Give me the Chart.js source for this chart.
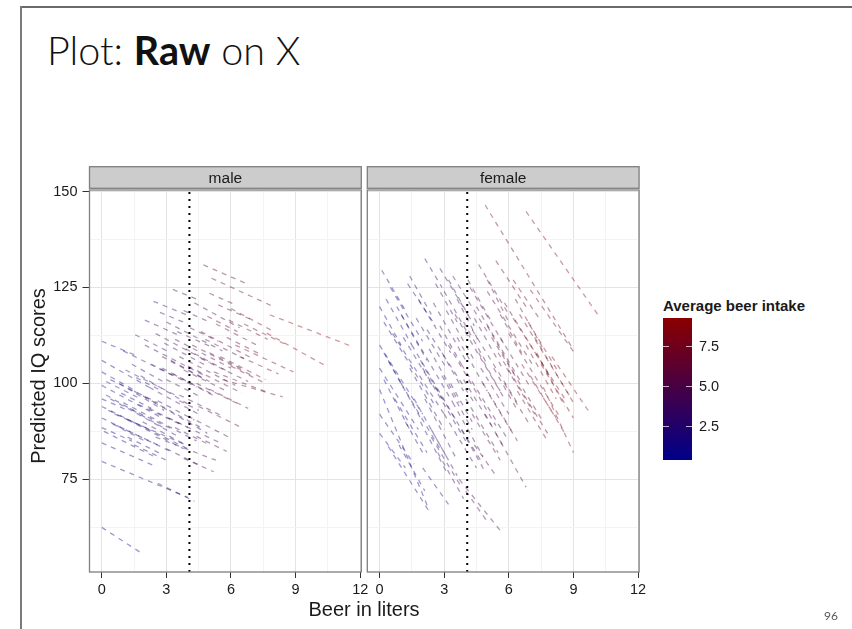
<!DOCTYPE html>
<html>
<head>
<meta charset="utf-8">
<script src="https://cdn.jsdelivr.net/npm/chart.js@4.4.1/dist/chart.umd.min.js"></script>
<style>
  body { margin: 0; background: #fff; }
  #page { position: relative; width: 852px; height: 629px; overflow: hidden; font-family: "Liberation Sans", Arial, sans-serif; color: #1a1a1a; }
  .frameTop { position: absolute; left: 20px; top: 6px; width: 832px; height: 2px; background: #6a6a6a; }
  .frameLeft { position: absolute; left: 20px; top: 6px; width: 2px; height: 623px; background: #7a7a7a; }
  #title { position: absolute; left: 47px; top: 30px; font-family: Lato, "Open Sans", sans-serif; font-weight: 300; font-size: 39.5px; line-height: 39.5px; white-space: nowrap; color: #111; }
  #title b { font-weight: 700; }
  #ytitle { position: absolute; left: -112px; top: 366px; width: 300px; text-align: center; font-size: 20px; line-height: 20px; transform: rotate(-90deg); }
  #xtitle { position: absolute; left: 214px; top: 599px; width: 300px; text-align: center; font-size: 20px; line-height: 20px; }
  #legTitle { position: absolute; left: 663px; top: 298px; font-size: 15px; line-height: 15px; font-weight: bold; white-space: nowrap; }
  #legBar { position: absolute; left: 663px; top: 318px; width: 29px; height: 142px; background: linear-gradient(to top, #00008b, #8b0000); }
  .legTick { position: absolute; height: 1px; width: 6px; background: rgba(255,255,255,0.7); }
  .legLab { position: absolute; left: 699px; font-size: 14.5px; line-height: 14.5px; }
  #pageNo { position: absolute; left: 824px; top: 608px; font-family: Lato, sans-serif; font-size: 12px; color: #555; }
  canvas { position: absolute; }
</style>
</head>
<body>
<div id="page">
  <div class="frameTop"></div>
  <div class="frameLeft"></div>
  <div id="title">Plot: <b>Raw</b> on X</div>
  <canvas id="male" width="345" height="446" style="left:30px; top:160px;"></canvas>
  <canvas id="female" width="297" height="446" style="left:357px; top:160px;"></canvas>
  <div id="ytitle">Predicted IQ scores</div>
  <div id="xtitle">Beer in liters</div>
  <div id="legTitle">Average beer intake</div>
  <div id="legBar"></div>
  <div id="pageNo">96</div>
</div>
<script>
// each line: [liters start, IQ at start, liters end, IQ at end]
var maleLines = [
  [0, 62.5, 1.9, 55.6], [0, 79.7, 4.0, 70.3], [0, 84.5, 2.5, 78.4], [0.1, 87.5, 2.6, 80.5],
  [0, 91, 3.3, 82], [0, 94, 4.1, 82.7], [0.2, 97, 3.0, 88], [0, 99.5, 2.8, 91],
  [0.4, 96, 3.6, 86], [0.6, 92, 3.9, 84], [1.0, 95, 4.4, 85], [1.2, 90.5, 3.8, 83],
  [0.8, 100, 2.9, 93], [1.5, 98, 4.6, 88.5], [2.0, 96.5, 4.9, 87], [1.8, 102, 4.2, 94],
  [0, 103, 1.6, 98], [0, 106, 2.2, 99], [0, 111, 1.5, 107.5], [2.6, 74, 4.3, 69.3],
  [2.5, 86, 5.3, 80], [3.0, 83, 4.6, 78.5], [4.4, 86.2, 5.8, 82.3], [3.8, 80.5, 5.2, 77],
  [3.1, 91, 5.5, 84.5], [2.2, 93.5, 4.0, 88.5], [1.55, 112.7, 3.2, 108], [1.0, 108.5, 3.5, 101.5],
  [2.0, 110, 4.8, 102], [2.5, 113, 5.0, 105.5], [2.4, 121.4, 4.1, 117.5], [3.3, 124.5, 4.4, 122],
  [4.3, 121, 6.4, 114.5], [5.0, 123.5, 6.2, 120.5], [3.0, 116, 5.6, 108.5], [3.4, 111.5, 6.0, 104],
  [3.6, 107, 6.2, 99.5], [2.8, 104, 5.2, 97], [4.0, 104.5, 6.5, 97.5], [4.2, 110, 7.0, 102],
  [4.6, 113.5, 7.0, 106.5], [3.0, 101, 4.6, 96.5], [4.4, 100, 6.4, 94.5], [5.0, 98.5, 6.8, 93.5],
  [3.6, 97, 5.6, 91.5], [5.6, 101, 8.4, 96.5], [4.5, 94, 6.5, 88.5], [5.5, 107, 7.6, 101],
  [5.2, 103, 7.8, 97.5], [4.72, 130.9, 6.73, 126], [5.1, 127.4, 7.9, 120.2], [7.8, 117.9, 11.5, 109.9],
  [7.66, 113.1, 10.3, 104.9], [6.0, 119.5, 8.0, 113.5], [6.6, 115.5, 8.6, 110], [5.8, 112, 7.4, 107.5],
  [6.2, 110, 8.9, 103], [4.9, 117.5, 6.3, 113.5], [3.8, 119, 5.0, 116], [5.4, 120.5, 7.0, 116.5],
  [0.3, 93, 2.4, 87.5], [0.5, 89.5, 2.0, 85], [1.2, 86, 2.8, 81.5], [1.9, 90, 3.9, 84],
  [2.2, 99, 4.5, 92], [2.8, 107, 4.8, 101], [1.4, 105, 3.0, 100], [0.9, 97.5, 2.3, 93.5],
  [3.3, 102.5, 5.3, 96.5], [3.9, 109, 5.9, 103], [4.1, 114.5, 5.4, 111], [2.0, 116.5, 3.6, 112.5],
  [1.6, 101.5, 2.8, 98], [0.2, 100.5, 1.8, 96], [3.6, 95.5, 4.5, 93], [5.0, 108, 6.6, 103.5],
  [6.0, 104.5, 7.6, 100], [0.4, 101, 2.6, 95], [1.1, 103.5, 3.4, 97], [2.3, 105, 4.4, 99],
  [2.9, 110.5, 4.9, 104.5], [3.2, 106, 5.0, 100.5], [3.8, 103.5, 5.8, 98], [4.6, 106.5, 6.8, 100.5],
  [4.8, 111.5, 6.6, 106.5], [5.3, 115.5, 7.2, 110], [3.5, 113.5, 5.1, 109.5], [2.7, 118.5, 4.0, 115.5],
  [1.3, 93.5, 3.3, 88], [0.7, 89, 2.6, 84], [1.7, 94.5, 3.6, 89.5], [2.6, 95.5, 4.3, 90.5],
  [3.4, 88.5, 5.0, 84], [0, 96, 1.2, 93], [0, 88.5, 1.4, 85], [4.0, 91.5, 5.9, 86],
  [1.5, 84, 3.0, 80], [5.9, 116.5, 7.7, 111.5], [6.4, 107, 8.2, 102.5]
];

var femaleLines = [
  [4.9, 146.5, 9.0, 108.8], [6.8, 144.8, 10.2, 117.4], [7.0, 124.4, 9.0, 108.3], [6.2, 127, 7.5, 116.2],
  [5.4, 132, 6.8, 120], [2.1, 132.5, 2.9, 125], [0.1, 129.5, 1.2, 119], [0.5, 125, 2.0, 111],
  [1.3, 126, 2.6, 115], [2.8, 130, 4.2, 117], [3.4, 128, 5.0, 113.5], [4.6, 131, 6.0, 118],
  [4.2, 125, 5.8, 110], [5.0, 124, 7.2, 104], [5.8, 121, 8.0, 101], [6.5, 118, 8.8, 97],
  [7.2, 112, 9.0, 95], [7.5, 105, 9.0, 91], [7.6, 99, 9.0, 82], [8.0, 107, 9.8, 92],
  [6.6, 105, 8.2, 91], [5.4, 87, 6.8, 73], [3.7, 75, 5.7, 61], [4.0, 72, 5.0, 64],
  [0, 98.4, 2.3, 67], [0.4, 83.6, 2.25, 67.1], [0, 92, 1.6, 79], [0, 87, 1.2, 78],
  [0, 104, 1.8, 88], [0, 110, 2.0, 92], [0.2, 116, 2.6, 94], [0.6, 113, 3.0, 92],
  [1.0, 118, 3.4, 95], [1.5, 110, 3.6, 90], [1.0, 100, 2.8, 83], [1.6, 96, 3.2, 80],
  [2.0, 104, 4.0, 85], [2.2, 114, 4.4, 95], [2.5, 121, 4.0, 106], [1.8, 122, 3.3, 108],
  [2.6, 99, 4.8, 79], [3.0, 92, 4.5, 78], [2.4, 88, 3.6, 76], [3.2, 110, 5.4, 89],
  [3.5, 118, 5.8, 96], [3.0, 124, 4.2, 112], [3.8, 105, 6.0, 85], [4.0, 96, 5.5, 82],
  [4.3, 114, 6.5, 94], [4.5, 120, 6.6, 100], [4.8, 100, 6.2, 87], [5.2, 112, 7.6, 90],
  [5.5, 108, 7.8, 87], [5.8, 100, 7.0, 89], [6.0, 113, 8.4, 91], [6.2, 117, 8.6, 96],
  [3.8, 88, 4.9, 77], [0.3, 122, 1.5, 110], [0.8, 120, 2.2, 106], [1.2, 90, 2.0, 82],
  [2.8, 115, 3.8, 105], [3.6, 122, 4.6, 111], [5.0, 127, 6.0, 116], [5.6, 118, 6.6, 108],
  [4.6, 108, 5.6, 98], [3.3, 100, 4.3, 90], [1.9, 106, 2.9, 96], [0.2, 108, 1.0, 100],
  [4.9, 92, 5.7, 84], [6.8, 110, 8.2, 96], [7.0, 102, 8.6, 87], [1.4, 128, 2.4, 118],
  [2.9, 108, 3.9, 98], [3.9, 116, 5.0, 105], [5.3, 104, 6.4, 93], [2.4, 86, 3.8, 73],
  [2.0, 78, 3.2, 68.5], [0, 120, 1.0, 110], [0.4, 106, 1.9, 91], [0.7, 96, 2.2, 82],
  [1.1, 112, 2.5, 99], [1.4, 104, 3.0, 88], [1.7, 117, 3.1, 104], [2.1, 96, 3.6, 80],
  [2.3, 109, 3.7, 95], [2.6, 126, 3.6, 116], [2.9, 102, 4.3, 88], [3.1, 119, 4.4, 106],
  [3.4, 95, 4.8, 81], [3.6, 112, 5.0, 98], [3.9, 101, 5.2, 89], [4.1, 127, 5.2, 116],
  [4.3, 92, 5.6, 80], [4.4, 117, 5.7, 104], [4.7, 104, 6.0, 92], [5.0, 115, 6.3, 102],
  [5.1, 97, 6.4, 85], [5.6, 112, 7.0, 99], [5.9, 104, 7.2, 92], [6.3, 122, 7.6, 109],
  [6.4, 98, 7.8, 85], [6.9, 116, 8.3, 103], [7.3, 108, 8.6, 94], [0.2, 101, 1.4, 88],
  [0.9, 84, 2.1, 72], [1.9, 90, 3.1, 77], [2.7, 82, 3.9, 70], [4.4, 84, 5.4, 76],
  [3.2, 127, 4.4, 115]
];

var xTicks = [0, 1.5, 3, 4.5, 6, 7.5, 9, 10.5, 12];
var yTicks = [62.5, 75, 87.5, 100, 112.5, 125, 137.5, 150];
var xRange = [-0.57, 12.05];
var yRange = [50.88, 150.4];
var meanBeer = 4.07;
var intakeRange = [0.375, 9.27];
var legendBreaks = [2.5, 5.0, 7.5];

var axisFont = { family: '"Liberation Sans", Arial, sans-serif', size: 14.5 };

function intakeColor(v, alpha) {
  var t = (v - intakeRange[0]) / (intakeRange[1] - intakeRange[0]);
  t = Math.max(0, Math.min(1, t));
  var r = Math.round(139 * t), b = Math.round(139 * (1 - t));
  return 'rgba(' + r + ',0,' + b + ',' + alpha + ')';
}

// grey strip on top + panel border
var panelFrame = {
  id: 'panelFrame',
  afterDraw: function(chart, args, opts) {
    var ctx = chart.ctx, a = chart.chartArea;
    ctx.save();
    ctx.fillStyle = '#cccccc';
    ctx.fillRect(a.left, a.top - 23.3, a.right - a.left, 21.6);
    ctx.strokeStyle = '#7f7f7f';
    ctx.lineWidth = 1.3;
    ctx.strokeRect(a.left, a.top - 23.3, a.right - a.left, 21.6);
    ctx.strokeRect(a.left, a.top, a.right - a.left, a.bottom - a.top);
    ctx.fillStyle = '#1a1a1a';
    ctx.font = '15.5px "Liberation Sans", Arial, sans-serif';
    ctx.textAlign = 'center';
    ctx.textBaseline = 'alphabetic';
    ctx.fillText(opts.label, (a.left + a.right) / 2, a.top - 6.8);
    ctx.restore();
  }
};

function isMajor(v, step) { return Math.abs(v / step - Math.round(v / step)) < 1e-6; }

function panelChart(id, lines, label, showY, pad) {
  var sets = [{
    data: [{ x: meanBeer, y: yRange[0] }, { x: meanBeer, y: yRange[1] }],
    showLine: true, pointRadius: 0, borderColor: '#000', borderWidth: 2, borderDash: [2, 5]
  }];
  for (var i = 0; i < lines.length; i++) {
    var l = lines[i];
    sets.push({
      data: [{ x: l[0], y: l[1] }, { x: l[2], y: l[3] }],
      showLine: true, pointRadius: 0, borderWidth: 1.3, borderDash: [5, 5],
      borderColor: intakeColor((l[0] + l[2]) / 2, 0.4)
    });
  }

  var ctx = document.getElementById(id).getContext('2d');
  return new Chart(ctx, {
    type: 'scatter',
    data: { datasets: sets },
    options: {
      responsive: false,
      animation: false,
      events: [],
      layout: { padding: pad },
      plugins: { legend: { display: false }, tooltip: { enabled: false }, panelFrame: { label: label } },
      scales: {
        x: {
          type: 'linear', min: xRange[0], max: xRange[1],
          afterBuildTicks: function(s) { s.ticks = xTicks.map(function(v) { return { value: v }; }); },
          afterFit: function(s) { s.height = 34; },
          ticks: {
            autoSkip: false, maxRotation: 0, padding: 3, color: '#1a1a1a', font: axisFont,
            callback: function(v) { return isMajor(v, 3) ? String(v) : ''; }
          },
          grid: {
            tickLength: 6, lineWidth: 1,
            color: function(c) { return c.tick && isMajor(c.tick.value, 3) ? '#e4e4e4' : '#f3f3f3'; },
            tickColor: function(c) { return c.tick && isMajor(c.tick.value, 3) ? '#333' : 'rgba(0,0,0,0)'; }
          },
          border: { display: false }
        },
        y: {
          type: 'linear', min: yRange[0], max: yRange[1],
          afterBuildTicks: function(s) { s.ticks = yTicks.map(function(v) { return { value: v }; }); },
          afterFit: function(s) { s.width = showY ? 59.5 : 0; },
          ticks: {
            display: showY, autoSkip: false, padding: 5, color: '#1a1a1a', font: axisFont,
            callback: function(v) { return isMajor(v, 25) ? String(v) : ''; }
          },
          grid: {
            drawTicks: showY, tickLength: 7, lineWidth: 1,
            color: function(c) { return c.tick && isMajor(c.tick.value, 25) ? '#e4e4e4' : '#f3f3f3'; },
            tickColor: function(c) { return c.tick && isMajor(c.tick.value, 25) ? '#333' : 'rgba(0,0,0,0)'; }
          },
          border: { display: false }
        }
      }
    },
    plugins: [panelFrame]
  });
}

panelChart('male', maleLines, 'male', true, { top: 30, right: 13.7, left: 0, bottom: 0 });
panelChart('female', femaleLines, 'female', false, { top: 30, right: 14.9, left: 10.3, bottom: 0 });

// colour bar ticks and labels
var page = document.getElementById('page');
legendBreaks.forEach(function(v) {
  var y = 460 - (v - intakeRange[0]) * (142 / (intakeRange[1] - intakeRange[0]));
  [663, 686].forEach(function(x) {
    var t = document.createElement('div');
    t.className = 'legTick';
    t.style.left = x + 'px';
    t.style.top = Math.round(y) + 'px';
    page.appendChild(t);
  });
  var lab = document.createElement('div');
  lab.className = 'legLab';
  lab.style.top = (y - 7) + 'px';
  lab.textContent = v.toFixed(1);
  page.appendChild(lab);
});
</script>
</body>
</html>
